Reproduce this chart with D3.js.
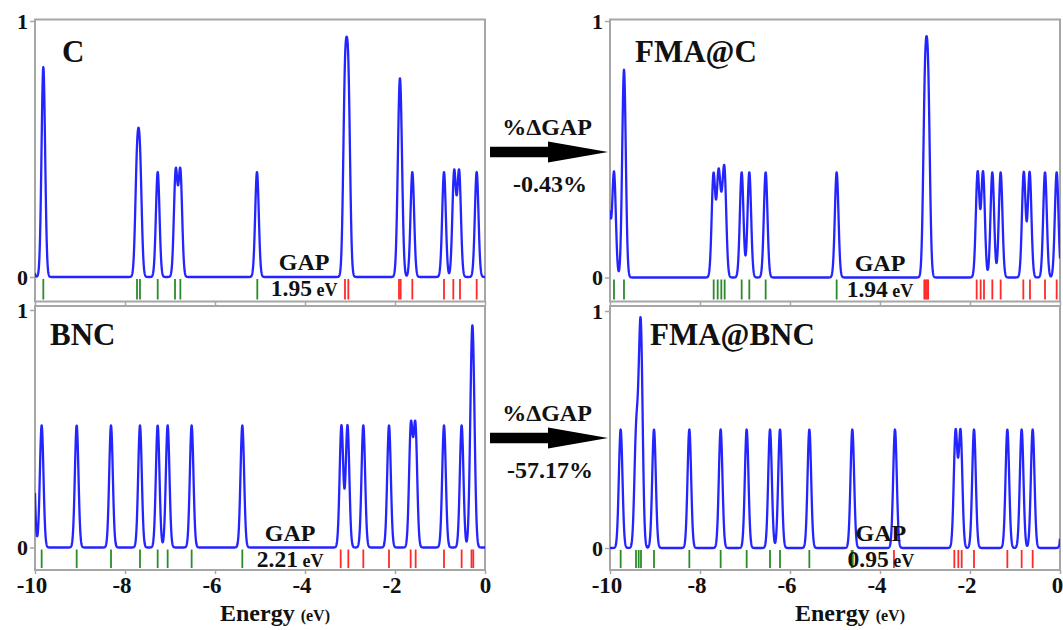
<!DOCTYPE html>
<html>
<head>
<meta charset="utf-8">
<script src="https://cdn.jsdelivr.net/npm/d3@7"></script>
<style>
  body { margin: 0; background: #fff; }
  svg text { font-family: "Liberation Serif", "Times New Roman", serif; font-weight: bold; fill: #111; }
</style>
</head>
<body>
<div id="chart"></div>
<script>
// Values (energies in eV, DOS peak heights normalised to 1)
const xTicks = [-10, -8, -6, -4, -2, 0];
const yTicks = [0, 1];

// C
const cPeaks = [[-10.1, 0.35], [-9.815, 0.82], [-7.733, 0.41], [-7.667, 0.41], [-7.273, 0.41],
  [-6.873, 0.41], [-6.77, 0.41], [-5.067, 0.41], [-3.111, 0.72], [-3.037, 0.72], [-1.91, 0.44],
  [-1.87, 0.44], [-1.615, 0.41], [-0.911, 0.41], [-0.685, 0.41], [-0.575, 0.41], [-0.185, 0.41]];
const cOcc = [-9.815, -7.733, -7.667, -7.273, -6.889, -6.77, -5.06];
const cUnocc = [-3.111, -3.037, -1.911, -1.874, -1.615, -0.911, -0.704, -0.556, -0.185];

// FMA@C
const fcPeaks = [[-10.03, 0.3], [-9.911, 0.41], [-9.689, 0.81], [-7.70, 0.40], [-7.59, 0.38],
  [-7.52, 0.15], [-7.455, 0.39], [-7.074, 0.41], [-6.904, 0.41], [-6.541, 0.41], [-4.963, 0.41],
  [-3.0, 0.69], [-2.93, 0.69], [-1.83, 0.41], [-1.71, 0.41], [-1.504, 0.41], [-1.319, 0.41],
  [-0.805, 0.41], [-0.675, 0.41], [-0.333, 0.41], [-0.074, 0.41]];
const fcOcc = [-9.911, -9.689, -7.696, -7.607, -7.526, -7.452, -7.074, -6.904, -6.541, -4.963];
const fcUnocc = [-3.015, -2.985, -2.955, -2.93, -1.852, -1.763, -1.689, -1.504, -1.319,
  -0.815, -0.667, -0.333, -0.074];

// BNC
const bPeaks = [[-10.05, 0.5], [-9.852, 0.514], [-9.074, 0.514], [-8.311, 0.514], [-7.667, 0.514],
  [-7.274, 0.514], [-7.052, 0.514], [-6.519, 0.514], [-5.393, 0.514], [-3.19, 0.514],
  [-3.055, 0.514], [-2.704, 0.514], [-2.133, 0.514], [-1.647, 0.508], [-1.547, 0.508],
  [-0.911, 0.514], [-0.519, 0.514], [-0.30, 0.53], [-0.26, 0.53]];
const bOcc = [-9.852, -9.074, -8.311, -7.667, -7.274, -7.052, -6.519, -5.393];
const bUnocc = [-3.207, -3.037, -2.704, -2.133, -1.652, -1.541, -0.911, -0.519, -0.30, -0.26];

// FMA@BNC
const fbPeaks = [[-9.763, 0.5], [-9.42, 0.45], [-9.35, 0.3], [-9.31, 0.75], [-9.022, 0.5],
  [-8.237, 0.5], [-7.541, 0.5], [-6.963, 0.5], [-6.444, 0.5], [-6.222, 0.5], [-5.57, 0.5],
  [-4.615, 0.5], [-3.667, 0.5], [-2.32, 0.49], [-2.21, 0.49], [-1.911, 0.5], [-1.17, 0.5],
  [-0.852, 0.5], [-0.607, 0.5], [0.09, 0.5]];
const fbOcc = [-9.763, -9.422, -9.363, -9.311, -9.022, -8.237, -7.541, -6.963, -6.444, -6.222,
  -5.57, -4.63, -4.605];
const fbUnocc = [-3.69, -2.348, -2.259, -2.185, -1.911, -1.17, -0.852, -0.607];

const titles = ["C", "FMA@C", "BNC", "FMA@BNC"];
const gaps = ["1.95", "1.94", "2.21", "0.95"];
const gapE = [-4.02, -4.0, -4.33, -3.98];
const deltaGap = ["-0.43%", "-57.17%"];

// broadening of each level (eV)
const sigma = 0.04;

const width = 1063, height = 630;
const blue = "#2424ff", green = "#2b8c2b", red = "#ff2a2a", frameCol = "#a6a6a6";

const layout = [
  { left: 35,  top: 19.5, bottom: 301.5, zero: 277,   one: 21,  titleX: 62,  titleY: 62 },
  { left: 610, top: 19.5, bottom: 301.5, zero: 277.5, one: 21,  titleX: 635, titleY: 62 },
  { left: 35,  top: 306,  bottom: 570,   zero: 547.5, one: 310, titleX: 50,  titleY: 345 },
  { left: 610, top: 306,  bottom: 570,   zero: 548,   one: 311, titleX: 650, titleY: 345 }
];
const peaksAll = [cPeaks, fcPeaks, bPeaks, fbPeaks];
const occAll = [cOcc, fcOcc, bOcc, fbOcc];
const unoccAll = [cUnocc, fcUnocc, bUnocc, fbUnocc];

const svg = d3.select("#chart").append("svg")
  .attr("width", width)
  .attr("height", height);

const energies = d3.range(-10, 0.0001, 0.004);

layout.forEach((p, i) => {
  const x = d3.scaleLinear().domain([-10, 0]).range([p.left, p.left + 450]);
  const y = d3.scaleLinear().domain([0, 1]).range([p.zero, p.one]);
  const g = svg.append("g");
  const peaks = peaksAll[i];

  const dos = e => d3.sum(peaks, pk => pk[1] * Math.exp(-((e - pk[0]) ** 2) / (2 * sigma * sigma)));

  g.append("clipPath").attr("id", "clip" + i)
    .append("rect")
    .attr("x", p.left).attr("y", p.top)
    .attr("width", 450).attr("height", p.bottom - p.top);

  // frame
  g.append("rect")
    .attr("x", p.left).attr("y", p.top)
    .attr("width", 450).attr("height", p.bottom - p.top)
    .attr("fill", "none")
    .attr("stroke", frameCol)
    .attr("stroke-width", 2);

  // level sticks
  const sticks = g.append("g").attr("clip-path", `url(#clip${i})`);
  sticks.selectAll(".occ")
    .data(occAll[i])
    .join("line")
    .attr("x1", d => x(d)).attr("x2", d => x(d))
    .attr("y1", p.zero + 2).attr("y2", p.bottom - 2)
    .attr("stroke", green)
    .attr("stroke-width", 1.8);
  sticks.selectAll(".unocc")
    .data(unoccAll[i])
    .join("line")
    .attr("x1", d => x(d)).attr("x2", d => x(d))
    .attr("y1", p.zero + 2).attr("y2", p.bottom - 2)
    .attr("stroke", red)
    .attr("stroke-width", 1.8);

  // DOS curve
  g.append("path")
    .datum(energies)
    .attr("clip-path", `url(#clip${i})`)
    .attr("d", d3.line().x(e => x(e)).y(e => y(dos(e))))
    .attr("fill", "none")
    .attr("stroke", blue)
    .attr("stroke-width", 2.3)
    .attr("stroke-linejoin", "round");

  // axes
  const isBottom = i >= 2;
  const xAxis = g.append("g")
    .attr("transform", `translate(0,${p.bottom})`)
    .call(d3.axisBottom(x).tickValues(xTicks).tickSize(4).tickPadding(3)
      .tickFormat(d => isBottom ? String(d) : ""));
  xAxis.select(".domain").remove();
  xAxis.selectAll(".tick line").attr("stroke", frameCol).attr("stroke-width", 1.5);
  xAxis.selectAll(".tick text")
    .attr("font-size", 23)
    .attr("fill", "#111")
    .attr("dx", d => d < 0 ? -3.5 : (i === 3 ? -3 : 0));

  const yAxis = g.append("g")
    .attr("transform", `translate(${p.left},0)`)
    .call(d3.axisLeft(y).tickValues(yTicks).tickSize(5).tickPadding(2).tickFormat(d3.format("d")));
  yAxis.select(".domain").remove();
  yAxis.selectAll(".tick line").attr("stroke", frameCol).attr("stroke-width", 1.5);
  yAxis.selectAll(".tick text").attr("font-size", 22).attr("fill", "#111");

  // title
  g.append("text")
    .attr("x", p.titleX).attr("y", p.titleY)
    .attr("font-size", 31)
    .text(titles[i]);

  // gap annotation
  g.append("text")
    .attr("x", x(gapE[i])).attr("y", p.zero - 7)
    .attr("text-anchor", "middle")
    .attr("font-size", 24)
    .text("GAP");
  const gt = g.append("text")
    .attr("x", x(gapE[i])).attr("y", p.zero + 19)
    .attr("text-anchor", "middle")
    .attr("font-size", 23.5);
  gt.append("tspan").text(gaps[i]);
  gt.append("tspan").attr("font-size", 18).text(" eV");

  // x-axis title
  if (isBottom) {
    const et = g.append("text")
      .attr("x", p.left + 185).attr("y", 621)
      .attr("font-size", 24);
    et.append("tspan").text("Energy ");
    et.append("tspan").attr("font-size", 16).text("(eV)");
  }
});

// arrows with %ΔGAP between the columns
const arrowY = [152, 438];
arrowY.forEach((cy, i) => {
  const g = svg.append("g");
  const x0 = 490, xh = 548, tip = 608;
  g.append("path")
    .attr("d", `M${x0},${cy - 5.3} L${xh},${cy - 5.3} L${xh},${cy - 10.5} L${tip},${cy} L${xh},${cy + 10.5} L${xh},${cy + 5.3} L${x0},${cy + 5.3} Z`)
    .attr("fill", "#000");
  g.append("text")
    .attr("x", 547).attr("y", cy - 17)
    .attr("text-anchor", "middle")
    .attr("font-size", 24)
    .text("%ΔGAP");
  g.append("text")
    .attr("x", 550).attr("y", cy + 40)
    .attr("text-anchor", "middle")
    .attr("font-size", 24)
    .text(deltaGap[i]);
});
</script>
</body>
</html>
